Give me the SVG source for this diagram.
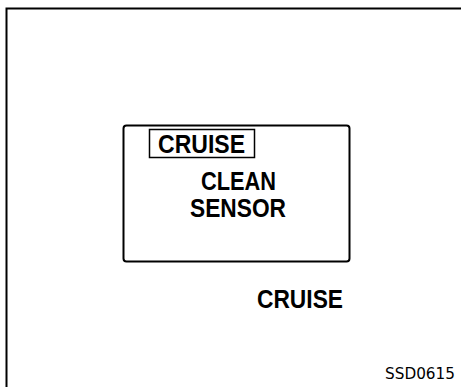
<svg xmlns="http://www.w3.org/2000/svg" width="461" height="387" viewBox="0 0 461 387">
<style>
.t{font-family:"Liberation Sans",Arial,sans-serif;font-weight:bold;font-size:25px;fill:#000}
.code{font-family:"DejaVu Sans",sans-serif;font-size:16px;fill:#000}
.ln{fill:none;stroke:#000}
</style>
<rect width="461" height="387" fill="#fff"/>
<g id="frame">
<path class="ln" d="M6.5,387 V8.5 H461" stroke-width="2"/>
</g>
<g id="display">
<rect class="ln" x="123.5" y="125.5" width="226" height="136" rx="3" stroke-width="2"/>
<rect class="ln" x="149.5" y="129.5" width="105" height="28" stroke-width="1.5"/>
<text class="t" x="158" y="153" textLength="87" lengthAdjust="spacingAndGlyphs">CRUISE</text>
<text class="t" x="201" y="190" textLength="75" lengthAdjust="spacingAndGlyphs">CLEAN</text>
<text class="t" x="190" y="217" textLength="96" lengthAdjust="spacingAndGlyphs">SENSOR</text>
</g>
<g id="label">
<text class="t" x="257" y="308" textLength="86" lengthAdjust="spacingAndGlyphs">CRUISE</text>
</g>
<g id="code">
<text class="code" x="385" y="379" textLength="70" lengthAdjust="spacingAndGlyphs">SSD0615</text>
</g>
</svg>
